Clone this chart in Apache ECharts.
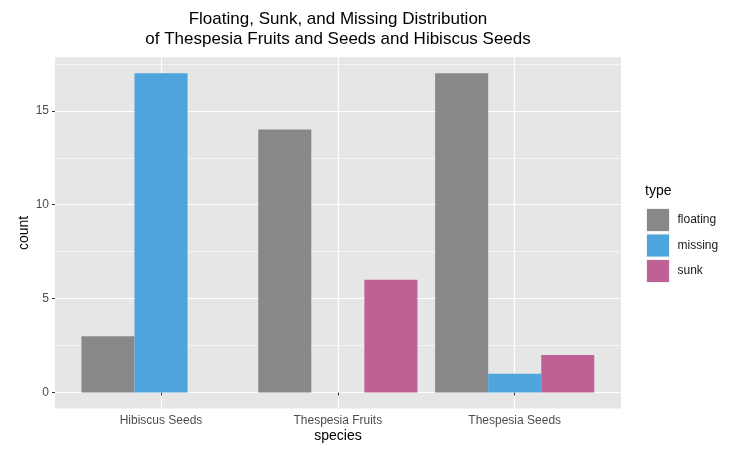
<!DOCTYPE html>
<html><head><meta charset="utf-8">
<script src="https://cdn.jsdelivr.net/npm/echarts@6/dist/echarts.min.js"></script>
<style>html,body{margin:0;padding:0;background:#fff}#c{width:747px;height:449px}</style>
</head><body><div id="c"></div><script>
const categories = ['Hibiscus Seeds', 'Thespesia Fruits', 'Thespesia Seeds'];
const floating = [3, 14, 17];
const missing = [17, 0, 1];
const sunk = [0, 6, 2];
const yTickValues = [0, 5, 10, 15];
const seriesNames = ['floating', 'missing', 'sunk'];
const seriesColors = ['#888888', '#4ea4dc', '#bf6194'];

const FONT = 'Liberation Sans, Arial, Helvetica, sans-serif';
// panel geometry
const PL = 55, PR = 621, PT = 57.3, PB = 408.5;
const Y0 = 392.5, UNIT = 18.78;
const yTop20 = Y0 - 20 * UNIT;
const catFirst = 161, catLast = 514.7;

const chart = echarts.init(document.getElementById('c'), null, {renderer: 'canvas'});
const valuesBySeries = [floating, missing, sunk];

chart.setOption({
  animation: false,
  backgroundColor: '#ffffff',
  textStyle: {fontFamily: FONT},
  graphic: [
    {type: 'text', x: (PL + PR) / 2, y: 9, z: 10,
     style: {text: 'Floating, Sunk, and Missing Distribution\nof Thespesia Fruits and Seeds and Hibiscus Seeds',
             align: 'center', verticalAlign: 'top', fontSize: 17, lineHeight: 20.5,
             fontFamily: FONT, fill: '#000000'}},
    {type: 'text', x: 645, y: 184, z: 10,
     style: {text: 'type', align: 'left', verticalAlign: 'top', fontSize: 14, fontFamily: FONT, fill: '#000000'}}
  ],
  grid: [
    {left: PL, top: PT, width: PR - PL, height: PB - PT, show: true, backgroundColor: '#e6e6e6', borderWidth: 0, z: -1},
    {left: PL, top: yTop20, width: PR - PL, height: Y0 - yTop20, show: false},
    {left: catFirst, top: PT, width: catLast - catFirst, height: PB - PT, show: false}
  ],
  legend: {
    orient: 'vertical', left: 641, top: 203, itemWidth: 23, itemHeight: 23, itemGap: 1.5,
    icon: 'rect', data: seriesNames,
    itemStyle: {borderColor: '#f2f2f2', borderWidth: 1},
    textStyle: {fontSize: 12, color: '#1a1a1a', fontFamily: FONT, padding: [0, 0, 0, 3]}
  },
  xAxis: [
    {gridIndex: 0, type: 'value', min: 0, max: 1,
     axisLine: {show: false}, axisTick: {show: false}, axisLabel: {show: false}, splitLine: {show: false},
     name: 'species', nameLocation: 'middle', nameGap: 21,
     nameTextStyle: {fontSize: 14, color: '#000000', fontFamily: FONT}},
    {gridIndex: 1, type: 'value', show: false},
    {gridIndex: 2, type: 'category', data: categories, boundaryGap: false, z: 1,
     axisLine: {show: false},
     axisTick: {show: true, length: 3, lineStyle: {color: '#333333', width: 1}},
     axisLabel: {color: '#4d4d4d', fontSize: 12, margin: 6, fontFamily: FONT, interval: 0},
     splitLine: {show: true, lineStyle: {color: '#ffffff', width: 1.2}}}
  ],
  yAxis: [
    {gridIndex: 0, type: 'value', min: 0, max: 1,
     axisLine: {show: false}, axisTick: {show: false}, axisLabel: {show: false}, splitLine: {show: false},
     name: 'count', nameLocation: 'middle', nameGap: 24, nameRotate: 90,
     nameTextStyle: {fontSize: 14, color: '#000000', fontFamily: FONT}},
    {gridIndex: 1, type: 'value', min: 0, max: 20, interval: 5, z: 1,
     axisLine: {show: false},
     axisTick: {show: true, length: 3, customValues: yTickValues, lineStyle: {color: '#333333', width: 1}},
     axisLabel: {customValues: yTickValues, color: '#4d4d4d', fontSize: 12, margin: 6, fontFamily: FONT},
     splitLine: {show: true, lineStyle: {color: '#ffffff', width: 1.2}},
     minorTick: {show: false, splitNumber: 2},
     minorSplitLine: {show: true, lineStyle: {color: '#ffffff', width: 0.6}}},
    {gridIndex: 2, type: 'value', min: -0.85, max: 17.85, show: false}
  ],
  series: seriesNames.map((name, i) => ({
    name: name, type: 'bar', xAxisIndex: 2, yAxisIndex: 2,
    data: valuesBySeries[i], barWidth: '30%', barGap: '0%', clip: false,
    itemStyle: {color: seriesColors[i]}
  }))
});
</script></body></html>
